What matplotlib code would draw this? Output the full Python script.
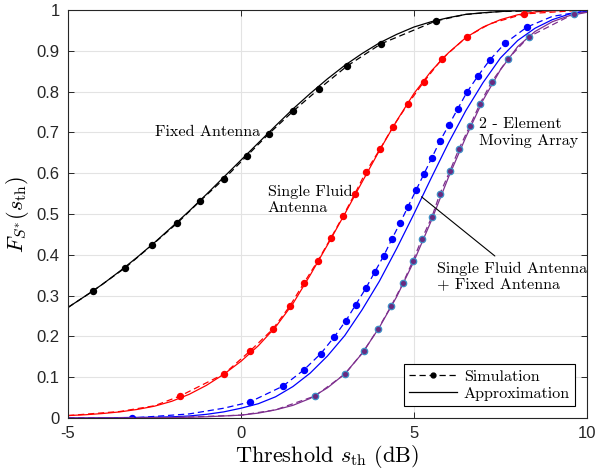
import numpy as np
import matplotlib
matplotlib.use("Agg")
from matplotlib import pyplot as plt
from matplotlib.lines import Line2D

plt.rcParams['mathtext.fontset'] = 'cm'
plt.rcParams['axes.unicode_minus'] = False

# approximation curves, read on a 0.5 dB grid
grid_x = np.arange(-5, 10.01, 0.5)
black_apx = [0.271, 0.299, 0.328, 0.360, 0.394, 0.430, 0.468, 0.507, 0.548, 0.590, 0.632,
             0.674, 0.716, 0.757, 0.795, 0.831, 0.864, 0.893, 0.919, 0.940, 0.958, 0.971,
             0.981, 0.989, 0.993, 0.996, 0.998, 0.999, 1.0, 1.0, 1.0]
red_apx = [0.006, 0.008, 0.011, 0.015, 0.021, 0.029, 0.041, 0.058, 0.080, 0.107, 0.139,
           0.177, 0.223, 0.280, 0.350, 0.424, 0.500, 0.578, 0.655, 0.728, 0.795, 0.850,
           0.895, 0.932, 0.958, 0.976, 0.988, 0.995, 0.998, 0.999, 1.0]
blue_apx = [0.0, 0.0, 0.0005, 0.001, 0.0015, 0.002, 0.003, 0.005, 0.009, 0.015, 0.024,
            0.035, 0.052, 0.077, 0.110, 0.152, 0.202, 0.265, 0.335, 0.415, 0.500, 0.588,
            0.674, 0.753, 0.822, 0.882, 0.925, 0.955, 0.976, 0.990, 0.997]
purple_apx = [0.0, 0.0, 0.0, 0.0, 0.0005, 0.0008, 0.001, 0.002, 0.003, 0.005, 0.007,
              0.012, 0.020, 0.031, 0.048, 0.074, 0.108, 0.158, 0.222, 0.297, 0.384, 0.483,
              0.590, 0.688, 0.779, 0.853, 0.910, 0.947, 0.971, 0.986, 0.994]

# simulation curves (markers) with a few extra points for the dashed tails
black_sim_x = [-5, -4.28, -3.35, -2.57, -1.85, -1.18, -0.49, 0.18, 0.80, 1.51, 2.25, 3.06,
               4.05, 5.64, 6.5, 7.5, 10]
black_sim_y = [0.271, 0.311, 0.368, 0.424, 0.477, 0.532, 0.586, 0.643, 0.696, 0.752, 0.806,
               0.862, 0.917, 0.973, 0.989, 0.996, 1.0]
black_marks = list(range(1, 14))

red_sim_x = [-5, -3.5, -2.5, -1.76, -0.49, 0.26, 0.92, 1.41, 1.82, 2.22, 2.60, 2.95, 3.29,
             3.61, 4.02, 4.39, 4.83, 5.29, 5.81, 6.53, 7.2, 8.18, 10]
red_sim_y = [0.006, 0.016, 0.030, 0.054, 0.108, 0.164, 0.218, 0.274, 0.331, 0.385, 0.441,
             0.495, 0.549, 0.603, 0.659, 0.713, 0.770, 0.824, 0.880, 0.934, 0.966, 0.990, 1.0]
red_marks = list(range(3, 20)) + [21]

blue_sim_x = [-5, -3.15, -1.5, -0.5, 0.25, 1.21, 1.82, 2.31, 2.69, 3.03, 3.32, 3.61, 3.87,
              4.13, 4.36, 4.60, 4.83, 5.06, 5.29, 5.52, 5.75, 6.01, 6.27, 6.53, 6.85, 7.20,
              7.63, 8.27, 9.0, 10]
blue_sim_y = [0.0, 0.0, 0.010, 0.024, 0.039, 0.078, 0.118, 0.158, 0.198, 0.238, 0.278,
              0.318, 0.358, 0.398, 0.438, 0.478, 0.518, 0.558, 0.598, 0.638, 0.678, 0.718,
              0.758, 0.798, 0.838, 0.878, 0.918, 0.958, 0.984, 0.998]
blue_marks = [1] + list(range(4, 28))

purple_sim_x = [-5, -2, 0, 1, 2.14, 3.01, 3.55, 3.96, 4.34, 4.68, 4.97, 5.23, 5.52, 5.75,
                6.04, 6.30, 6.62, 6.91, 7.25, 7.72, 8.32, 9.62, 10]
purple_sim_y = [0.0, 0.001, 0.007, 0.020, 0.054, 0.108, 0.164, 0.218, 0.274, 0.330, 0.385,
                0.439, 0.493, 0.549, 0.605, 0.659, 0.716, 0.770, 0.824, 0.880, 0.934, 0.990,
                0.995]
purple_marks = list(range(4, 22))

PURPLE = '#7E2F8E'
DASH = (5, 3)

fig = plt.figure(figsize=(5.97, 4.71), dpi=100)
ax = fig.add_axes([0.114, 0.1125, 0.869, 0.8665])

ax.grid(True, color='#e3e3e3', lw=0.8)
ax.set_axisbelow(True)

for col, apx in [('k', black_apx), ('#ff0000', red_apx), ('#0000ff', blue_apx), (PURPLE, purple_apx)]:
    ax.plot(grid_x, apx, '-', color=col, lw=0.9)

ax.plot(black_sim_x, black_sim_y, ls=(0, DASH), color='k', lw=0.9, marker='o', ms=4.3,
        markevery=black_marks)
ax.plot(red_sim_x, red_sim_y, ls=(0, DASH), color='#ff0000', lw=0.9, marker='o', ms=4.3,
        markevery=red_marks)
ax.plot(blue_sim_x, blue_sim_y, ls=(0, DASH), color='#0000ff', lw=0.9, marker='o', ms=4.3,
        markevery=blue_marks)
ax.plot(purple_sim_x, purple_sim_y, ls=(0, DASH), color=PURPLE, lw=0.9, marker='o', ms=4.6,
        mfc='#6a2a80', mec='#3d8fc6', mew=0.9, markevery=purple_marks)

ax.set_xlim(-5, 10)
ax.set_ylim(0, 1)
ax.set_xticks([-5, 0, 5, 10])
ax.set_yticks(np.arange(0, 1.01, 0.1))
ax.set_yticklabels(['0', '0.1', '0.2', '0.3', '0.4', '0.5', '0.6', '0.7', '0.8', '0.9', '1'])
ax.tick_params(direction='in', top=True, right=True, length=4, width=0.7,
               labelsize=12, colors='#262626', pad=6)
for lab in ax.get_xticklabels() + ax.get_yticklabels():
    lab.set_fontfamily('Liberation Sans')
for sp in ax.spines.values():
    sp.set_linewidth(0.8)
    sp.set_color('#262626')

ax.set_xlabel(r'Threshold $s_{\rm th}$ (dB)', fontfamily='cmr10', fontsize=16, labelpad=1)
ax.set_ylabel(r'$F_{S^{*}}(s_{\rm th})$', fontsize=16, labelpad=4)

txt = dict(fontfamily='cmr10', fontsize=11.6, color='k', va='center', ha='left')
ax.text(-2.49, 0.70, 'Fixed Antenna', **txt)
ax.text(0.78, 0.535, 'Single Fluid\nAntenna', linespacing=1.2, **txt)
ax.text(6.88, 0.699, '2 - Element\nMoving Array', linespacing=1.2, **txt)
ax.text(5.66, 0.345, 'Single Fluid Antenna\n+ Fixed Antenna', linespacing=1.2, **txt)
ax.annotate('', xy=(5.22, 0.542), xytext=(7.34, 0.397),
            arrowprops=dict(arrowstyle='-', color='k', lw=0.8, shrinkA=0, shrinkB=0))

sim_handle = Line2D([0, 0.5, 1], [0, 0, 0], color='k', ls=(0, DASH), lw=0.9,
                    marker='.', ms=7, markevery=[1])
apx_handle = Line2D([], [], color='k', ls='-', lw=0.9)
leg = ax.legend([sim_handle, apx_handle], ['Simulation', 'Approximation'], loc='lower right',
                prop={'family': 'cmr10', 'size': 11.6}, fancybox=False, edgecolor='k',
                framealpha=1, handlelength=3.0, handletextpad=0.4, labelspacing=0.2,
                borderpad=0.3, borderaxespad=0.75)
leg.get_frame().set_linewidth(0.8)

fig.savefig('out.png', dpi=100)
